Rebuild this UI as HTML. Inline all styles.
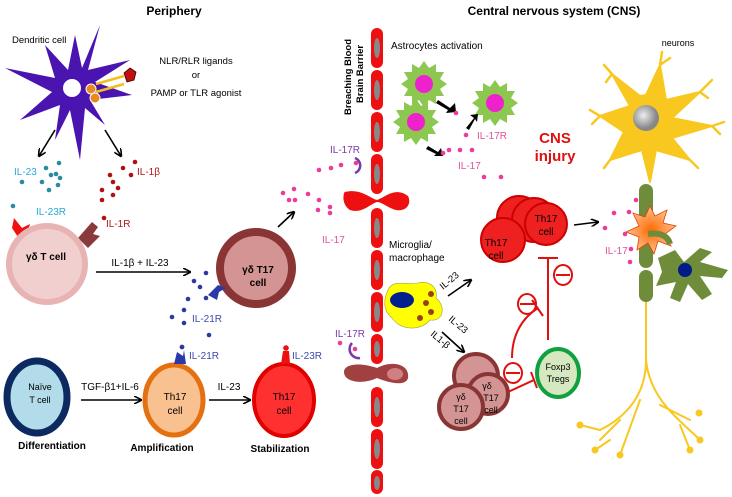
<!DOCTYPE html>
<html><head><meta charset="utf-8"><style>
html,body{margin:0;padding:0;background:#fff}
svg{display:block;font-family:"Liberation Sans",sans-serif}
</style></head><body>
<svg width="732" height="497" viewBox="0 0 732 497">
<defs>
<marker id="ar" markerWidth="8" markerHeight="8" refX="7" refY="4" orient="auto" markerUnits="userSpaceOnUse"><path d="M0,0 L8,4 L0,8" fill="none" stroke="#000" stroke-width="1.6"/></marker>
<radialGradient id="gn" cx="40%" cy="40%"><stop offset="0" stop-color="#eee"/><stop offset="1" stop-color="#888"/></radialGradient>
<radialGradient id="burst"><stop offset="0" stop-color="#ff6a00"/><stop offset="1" stop-color="#ffc090"/></radialGradient>
</defs>
<text x="174" y="15" font-size="12" font-weight="bold" text-anchor="middle">Periphery</text>
<text x="554" y="15" font-size="12" font-weight="bold" text-anchor="middle">Central nervous system (CNS)</text>

<!-- dendritic cell -->
<polygon points="100,25 88,70 130,60 95,82 132,95 90,100 105,125 85,108 80,160 70,110 55,140 60,105 20,120 52,92 5,68 55,78 45,45 68,70 75,35 82,68" fill="#4a14b0"/>
<circle cx="72" cy="88" r="9" fill="#fff"/>
<line x1="96" y1="84" x2="124" y2="76" stroke="#f0c020" stroke-width="2.5"/>
<line x1="96" y1="92" x2="124" y2="84" stroke="#f0c020" stroke-width="2.5"/>
<circle cx="91" cy="89" r="5" fill="#e88a20" stroke="#fff"/><circle cx="95" cy="98" r="5" fill="#e88a20" stroke="#fff"/>
<polygon points="124,73 130,68 136,72 134,80 127,82" fill="#c01010" stroke="#300" stroke-width="0.8"/>
<text x="12" y="43" font-size="9.5">Dendritic cell</text>
<text x="196" y="64" font-size="9.5" text-anchor="middle">NLR/RLR ligands</text>
<text x="196" y="78" font-size="9.5" text-anchor="middle">or</text>
<text x="196" y="96" font-size="9.5" text-anchor="middle">PAMP or TLR agonist</text>
<line x1="55" y1="130" x2="39" y2="156" stroke="#000" stroke-width="1.6" marker-end="url(#ar)"/>
<line x1="105" y1="130" x2="121" y2="156" stroke="#000" stroke-width="1.6" marker-end="url(#ar)"/>
<text x="14" y="175" font-size="10" fill="#2aa8d8">IL-23</text>
<g fill="#2a8aa0"><circle cx="46" cy="168" r="2.3"/><circle cx="59" cy="163" r="2.3"/><circle cx="51" cy="175" r="2.3"/><circle cx="56" cy="174" r="2.3"/><circle cx="60" cy="178" r="2.3"/><circle cx="22" cy="182" r="2.3"/><circle cx="42" cy="182" r="2.3"/><circle cx="49" cy="190" r="2.3"/><circle cx="58" cy="185" r="2.3"/><circle cx="13" cy="206" r="2.3"/></g>
<text x="137" y="175" font-size="10" fill="#b01818">IL-1β</text>
<g fill="#b01010"><circle cx="135" cy="162" r="2.3"/><circle cx="123" cy="168" r="2.3"/><circle cx="131" cy="175" r="2.3"/><circle cx="110" cy="175" r="2.3"/><circle cx="113" cy="182" r="2.3"/><circle cx="118" cy="188" r="2.3"/><circle cx="102" cy="190" r="2.3"/><circle cx="113" cy="195" r="2.3"/><circle cx="102" cy="200" r="2.3"/><circle cx="104" cy="218" r="2.3"/></g>
<text x="36" y="215" font-size="10" fill="#2aa8d8">IL-23R</text>
<text x="106" y="227" font-size="10" fill="#b01818">IL-1R</text>
<polygon points="14,218 22,228 30,224 26,238 20,240 12,228" fill="#f01010"/>
<polygon points="78,238 92,222 98,227 93,234 100,236 88,248" fill="#8a3a3a"/>
<!-- gd T cell -->
<circle cx="47" cy="264" r="38" fill="#f2cfcf" stroke="#e8b3b3" stroke-width="6"/>
<text x="46" y="260" font-size="10" font-weight="bold" text-anchor="middle">γδ T cell</text>
<text x="140" y="266" font-size="10" text-anchor="middle">IL-1β + IL-23</text>
<line x1="96" y1="272" x2="190" y2="272" stroke="#000" stroke-width="1.5" marker-end="url(#ar)"/>
<!-- gd T17 -->
<circle cx="256" cy="268" r="36" fill="#d49494" stroke="#8a3535" stroke-width="8"/>
<text x="258" y="273" font-size="10" font-weight="bold" text-anchor="middle">γδ T17</text>
<text x="258" y="286" font-size="10" font-weight="bold" text-anchor="middle">cell</text>
<polygon points="208,295 218,285 226,288 219,292 217,300" fill="#2a3aaa"/>
<g fill="#2a3aa0"><circle cx="206" cy="273" r="2.3"/><circle cx="194" cy="281" r="2.3"/><circle cx="200" cy="287" r="2.3"/><circle cx="206" cy="298" r="2.3"/><circle cx="188" cy="299" r="2.3"/><circle cx="184" cy="310" r="2.3"/><circle cx="172" cy="317" r="2.3"/><circle cx="184" cy="323" r="2.3"/><circle cx="209" cy="335" r="2.3"/><circle cx="182" cy="347" r="2.3"/></g>
<text x="192" y="322" font-size="10" fill="#3a4aaa">IL-21R</text>
<line x1="278" y1="227" x2="294" y2="212" stroke="#000" stroke-width="1.6" marker-end="url(#ar)"/>
<g fill="#f03a9a"><circle cx="283" cy="193" r="2.3"/><circle cx="294" cy="189" r="2.3"/><circle cx="308" cy="194" r="2.3"/><circle cx="289" cy="200" r="2.3"/><circle cx="295" cy="200" r="2.3"/><circle cx="319" cy="200" r="2.3"/><circle cx="318" cy="210" r="2.3"/><circle cx="330" cy="207" r="2.3"/><circle cx="330" cy="213" r="2.3"/><circle cx="319" cy="170" r="2.3"/><circle cx="331" cy="168" r="2.3"/><circle cx="341" cy="165" r="2.3"/><circle cx="356" cy="163" r="2.3"/><circle cx="346" cy="194" r="2.3"/></g>
<text x="322" y="243" font-size="10" fill="#e0509e">IL-17</text>
<text x="330" y="153" font-size="10" fill="#7a3aa8">IL-17R</text>
<path d="M355,158 A8,8 0 0 1 355,173" fill="none" stroke="#7a3aa8" stroke-width="2.5"/>

<!-- Bottom row -->
<ellipse cx="37" cy="397" rx="30" ry="36" fill="#b2dcea" stroke="#0c2a60" stroke-width="7"/>
<text x="40" y="390" font-size="9" text-anchor="middle">Naïve</text>
<text x="40" y="403" font-size="9" text-anchor="middle">T  cell</text>
<text x="110" y="390" font-size="10" text-anchor="middle">TGF-β1+IL-6</text>
<line x1="81" y1="400" x2="141" y2="400" stroke="#000" stroke-width="1.5" marker-end="url(#ar)"/>
<ellipse cx="174" cy="400" rx="29" ry="35" fill="#f9c190" stroke="#e57010" stroke-width="5"/>
<text x="175" y="400" font-size="10" text-anchor="middle">Th17</text>
<text x="175" y="414" font-size="10" text-anchor="middle">cell</text>
<polygon points="174,364 177,352 183,356 184,350 186,364" fill="#2a3aaa"/>
<circle cx="182" cy="347" r="2.3" fill="#2a3aa0"/>
<text x="189" y="359" font-size="10" fill="#3a4aaa">IL-21R</text>
<text x="229" y="390" font-size="10" text-anchor="middle">IL-23</text>
<line x1="209" y1="400" x2="250" y2="400" stroke="#000" stroke-width="1.5" marker-end="url(#ar)"/>
<ellipse cx="284" cy="400" rx="30" ry="36" fill="#ff3030" stroke="#e00000" stroke-width="4"/>
<text x="284" y="400" font-size="10" text-anchor="middle">Th17</text>
<text x="284" y="414" font-size="10" text-anchor="middle">cell</text>
<polygon points="281,364 283,351 289,351 290,364" fill="#ee1010"/><circle cx="286" cy="348" r="2.8" fill="#ee1010"/>
<text x="292" y="359" font-size="10" fill="#3a4aaa">IL-23R</text>
<text x="52" y="449" font-size="10" font-weight="bold" text-anchor="middle">Differentiation</text>
<text x="162" y="451" font-size="10" font-weight="bold" text-anchor="middle">Amplification</text>
<text x="280" y="452" font-size="10" font-weight="bold" text-anchor="middle">Stabilization</text>
<circle cx="340" cy="343" r="2.3" fill="#f03a9a"/><circle cx="355" cy="349" r="2.3" fill="#f03a9a"/>
<text x="335" y="337" font-size="10" fill="#7a3aa8">IL-17R</text>
<path d="M352,343 A9,9 0 0 0 360,358" fill="none" stroke="#7a3aa8" stroke-width="2.5"/>

<!-- vessel -->
<g>
<rect x="371" y="28" width="12" height="40" rx="6" fill="#ee1010"/><ellipse cx="377" cy="48" rx="3" ry="10" fill="#888"/>
<rect x="371" y="70" width="12" height="40" rx="6" fill="#ee1010"/><ellipse cx="377" cy="90" rx="3" ry="10" fill="#888"/>
<rect x="371" y="112" width="12" height="40" rx="6" fill="#ee1010"/><ellipse cx="377" cy="132" rx="3" ry="10" fill="#888"/>
<rect x="371" y="154" width="12" height="40" rx="6" fill="#ee1010"/><ellipse cx="377" cy="174" rx="3" ry="10" fill="#888"/>
<path d="M345,192 C360,188 370,198 377,200 C384,198 395,186 408,196 C412,204 406,212 396,210 C388,208 382,202 377,202 C370,204 362,214 350,210 C343,206 342,196 345,192Z" fill="#ee1010"/>
<rect x="371" y="208" width="12" height="40" rx="6" fill="#ee1010"/><ellipse cx="377" cy="228" rx="3" ry="10" fill="#888"/>
<rect x="371" y="250" width="12" height="40" rx="6" fill="#ee1010"/><ellipse cx="377" cy="270" rx="3" ry="10" fill="#888"/>
<rect x="371" y="292" width="12" height="40" rx="6" fill="#ee1010"/><ellipse cx="377" cy="312" rx="3" ry="10" fill="#888"/>
<rect x="371" y="334" width="12" height="30" rx="6" fill="#ee1010"/><ellipse cx="377" cy="349" rx="3" ry="8" fill="#888"/>
<path d="M344,372 C344,364 360,362 377,368 C392,360 410,364 408,378 C406,386 392,384 377,378 C362,385 344,382 344,372Z" fill="#a04040"/>
<ellipse cx="395" cy="374" rx="8" ry="6" fill="#d08080"/>
<rect x="371" y="387" width="12" height="40" rx="6" fill="#ee1010"/><ellipse cx="377" cy="407" rx="3" ry="10" fill="#888"/>
<rect x="371" y="429" width="12" height="40" rx="6" fill="#ee1010"/><ellipse cx="377" cy="449" rx="3" ry="10" fill="#888"/>
<rect x="371" y="470" width="12" height="24" rx="6" fill="#ee1010"/><ellipse cx="377" cy="483" rx="3" ry="7" fill="#888"/>
</g>
<text transform="translate(351,115) rotate(-90)" font-size="9.5" font-weight="bold">Breaching Blood</text>
<text transform="translate(363,103) rotate(-90)" font-size="9.5" font-weight="bold">Brain Barrier</text>

<!-- astrocytes -->
<text x="391" y="49" font-size="10">Astrocytes activation</text>
<g fill="#8cc850">
<polygon points="0,-23 5,-16 12,-20 12,-12 20,-12 16,-5 23,0 16,5 20,12 12,12 12,20 5,16 0,23 -5,16 -12,20 -12,12 -20,12 -16,5 -23,0 -16,-5 -20,-12 -12,-12 -12,-20 -5,-16" transform="translate(424,84)"/>
<polygon points="0,-23 5,-16 12,-20 12,-12 20,-12 16,-5 23,0 16,5 20,12 12,12 12,20 5,16 0,23 -5,16 -12,20 -12,12 -20,12 -16,5 -23,0 -16,-5 -20,-12 -12,-12 -12,-20 -5,-16" transform="translate(416,122)"/>
<polygon points="0,-23 5,-16 12,-20 12,-12 20,-12 16,-5 23,0 16,5 20,12 12,12 12,20 5,16 0,23 -5,16 -12,20 -12,12 -20,12 -16,5 -23,0 -16,-5 -20,-12 -12,-12 -12,-20 -5,-16" transform="translate(495,103)"/>
</g>
<g fill="#ee22cc"><circle cx="424" cy="84" r="9"/><circle cx="416" cy="122" r="9"/><circle cx="495" cy="103" r="9"/></g>
<g fill="#000"><polygon points="438,100 450,108 455,103 456,112 446,113 448,110 436,103"/><polygon points="466,128 474,118 470,115 478,114 477,122 475,119 469,130"/><polygon points="428,146 438,152 441,148 443,156 434,156 436,154 426,149"/></g>
<g fill="#f03a9a"><circle cx="456" cy="113" r="2.3"/><circle cx="466" cy="135" r="2.3"/><circle cx="443" cy="153" r="2.3"/><circle cx="449" cy="150" r="2.3"/><circle cx="460" cy="150" r="2.3"/><circle cx="472" cy="150" r="2.3"/><circle cx="484" cy="177" r="2.3"/><circle cx="501" cy="177" r="2.3"/></g>
<text x="477" y="139" font-size="10" fill="#e0509e">IL-17R</text>
<text x="458" y="169" font-size="10" fill="#e0509e">IL-17</text>
<text x="555" y="143" font-size="15" font-weight="bold" fill="#e01010" text-anchor="middle">CNS</text>
<text x="555" y="161" font-size="15" font-weight="bold" fill="#e01010" text-anchor="middle">injury</text>
<!-- Th17 cluster -->
<g fill="#ee2020" stroke="#cc0000" stroke-width="2">
<circle cx="519" cy="218" r="22"/><circle cx="534" cy="220" r="22"/><circle cx="503" cy="240" r="22"/><circle cx="546" cy="224" r="21"/>
</g>
<text x="546" y="222" font-size="10" text-anchor="middle">Th17</text>
<text x="546" y="235" font-size="10" text-anchor="middle">cell</text>
<text x="496" y="246" font-size="10" text-anchor="middle">Th17</text>
<text x="496" y="259" font-size="10" text-anchor="middle">cell</text>
<line x1="574" y1="225" x2="598" y2="222" stroke="#000" stroke-width="1.6" marker-end="url(#ar)"/>
<!-- microglia -->
<text x="389" y="248" font-size="10">Microglia/</text>
<text x="389" y="261" font-size="10">macrophage</text>
<path d="M388,290 C393,278 410,286 418,283 C430,280 438,288 436,298 C446,306 444,322 430,320 C420,332 400,330 392,318 C382,310 384,298 388,290Z" fill="#ffff00" stroke="#a0a040" stroke-width="0.6"/>
<ellipse cx="402" cy="300" rx="12" ry="8" fill="#002090"/>
<g fill="#964020"><circle cx="426" cy="303" r="3"/><circle cx="431" cy="294" r="3"/><circle cx="420" cy="318" r="3"/><circle cx="431" cy="312" r="3"/></g>
<line x1="448" y1="296" x2="471" y2="280" stroke="#000" stroke-width="1.6" marker-end="url(#ar)"/>
<text transform="translate(443,290) rotate(-40)" font-size="9.5">IL-23</text>
<line x1="442" y1="332" x2="464" y2="352" stroke="#000" stroke-width="1.6" marker-end="url(#ar)"/>
<text transform="translate(448,320) rotate(40)" font-size="9.5">IL-23</text>
<text transform="translate(430,335) rotate(40)" font-size="9.5">IL1-β</text>
<!-- gd T17 cluster -->
<g fill="#d49494" stroke="#8a3535" stroke-width="4">
<circle cx="476" cy="376" r="22"/><circle cx="488" cy="394" r="20"/><circle cx="461" cy="407" r="22"/>
</g>
<text x="487" y="389" font-size="9" text-anchor="middle">γδ</text><text x="491" y="401" font-size="9" text-anchor="middle">T17</text><text x="491" y="413" font-size="9" text-anchor="middle">cell</text>
<text x="461" y="400" font-size="9" text-anchor="middle">γδ</text><text x="461" y="412" font-size="9" text-anchor="middle">T17</text><text x="461" y="424" font-size="9" text-anchor="middle">cell</text>
<!-- Tregs -->
<ellipse cx="558" cy="373" rx="21" ry="24" fill="#d5e8c0" stroke="#10a040" stroke-width="4"/>
<text x="558" y="370" font-size="9" text-anchor="middle">Foxp3</text>
<text x="558" y="382" font-size="9" text-anchor="middle">Tregs</text>
<g stroke="#e01010" stroke-width="2" fill="none">
<line x1="548" y1="340" x2="548" y2="258"/><line x1="538" y1="258" x2="558" y2="258"/>
<path d="M512,358 C512,335 522,318 538,308"/><line x1="532" y1="300" x2="543" y2="316"/>
<line x1="508" y1="392" x2="534" y2="380"/><line x1="531" y1="372" x2="537" y2="388"/>
<ellipse cx="563" cy="275" rx="9" ry="10"/><line x1="556" y1="275" x2="570" y2="275"/>
<ellipse cx="527" cy="304" rx="9" ry="10"/><line x1="520" y1="304" x2="534" y2="304"/>
<ellipse cx="513" cy="373" rx="9" ry="10"/><line x1="506" y1="373" x2="520" y2="373"/>
</g>
<!-- neuron -->
<text x="678" y="46" font-size="9" text-anchor="middle">neurons</text>
<g fill="#f8c820" stroke="#f8c820" stroke-linecap="round" stroke-linejoin="round">
<path d="M646,95 L660,65 L666,100 L700,92 L672,118 L712,126 L672,138 L690,160 L656,150 L650,182 L642,150 L610,160 L624,132 L600,116 L630,106 L612,74 L640,96Z" stroke-width="2"/>
<g fill="none" stroke-width="2.5">
<path d="M660,65 L662,52 M660,65 L670,58"/><path d="M612,74 L604,65 M612,74 L606,82"/><path d="M700,92 L712,80 M700,92 L708,98"/><path d="M712,126 L724,122 M712,126 L720,134"/><path d="M600,116 L590,110 M600,116 L592,124"/><path d="M690,160 L698,168"/><path d="M610,160 L604,168"/>
<path d="M646,300 L646,360 C646,400 620,420 600,430 M646,360 C650,400 680,420 700,440 M620,420 L600,440 M640,400 L620,455 M660,405 L690,420 M600,430 L580,425 M610,440 L595,450 M680,425 L690,450" stroke-width="2"/>
</g>
<circle cx="580" cy="425" r="3"/><circle cx="595" cy="450" r="3"/><circle cx="620" cy="455" r="3"/><circle cx="690" cy="450" r="3"/><circle cx="700" cy="440" r="3"/><circle cx="699" cy="413" r="3"/>
</g>
<circle cx="646" cy="118" r="13" fill="url(#gn)"/>
<g fill="#6e8c3a">
<rect x="639" y="184" width="14" height="46" rx="7"/><rect x="639" y="232" width="14" height="36" rx="7"/><rect x="639" y="270" width="14" height="32" rx="7"/>
</g>
<polygon points="650,206 655,216 667,210 663,223 676,226 665,234 671,246 658,241 654,254 648,243 637,250 639,237 626,232 639,226 633,213 645,217" fill="url(#burst)" stroke="#e04000" stroke-width="0.8"/>
<path d="M648,234 C660,232 668,236 670,244" fill="none" stroke="#6e8c3a" stroke-width="6"/>
<path d="M658,258 L675,250 L684,262 L700,248 L712,252 L700,262 L728,270 L722,278 L700,276 L712,294 L702,300 L688,284 L680,302 L670,298 L676,282 L656,286 L662,272 Z" fill="#6e8c3a"/>
<circle cx="685" cy="270" r="7" fill="#001a8a"/>
<g fill="#f03a9a"><circle cx="636" cy="200" r="2.3"/><circle cx="614" cy="213" r="2.3"/><circle cx="629" cy="212" r="2.3"/><circle cx="605" cy="228" r="2.3"/><circle cx="625" cy="234" r="2.3"/><circle cx="631" cy="249" r="2.3"/><circle cx="630" cy="262" r="2.3"/></g>
<text x="605" y="254" font-size="10" fill="#e0509e">IL-17</text>
</svg>
</body></html>
